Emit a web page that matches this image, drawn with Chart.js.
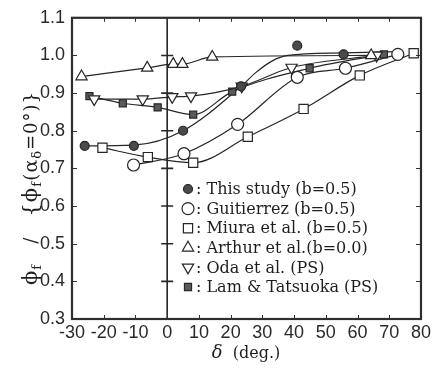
<!DOCTYPE html>
<html>
<head>
<meta charset="utf-8">
<script src="https://cdn.jsdelivr.net/npm/chart.js@4.4.1/dist/chart.umd.min.js"></script>
<style>
  html, body { margin: 0; padding: 0; background: #fff; }
  #wrap { width: 434px; height: 368px; }
</style>
</head>
<body>
<div id="wrap"><canvas id="chart" width="434" height="368"></canvas></div>
<script>
// axis ticks
const xTicks = [-30, -20, -10, 0, 10, 20, 30, 40, 50, 60, 70, 80];
const yTicks = [0.3, 0.4, 0.5, 0.6, 0.7, 0.8, 0.9, 1.0, 1.1];

// measured friction angle ratios vs. delta
const thisStudyX = [-26, -10.5, 5, 23.3, 41, 55.6];
const thisStudyY = [0.760, 0.760, 0.800, 0.918, 1.026, 1.003];
// smoothed trend drawn for this study
const thisFitX = [-27, -10.5, 5, 23.3, 28, 33, 38, 55, 72];
const thisFitY = [0.760, 0.762, 0.800, 0.918, 0.955, 0.985, 1.000, 1.007, 1.010];

const guitierrezX = [-10.6, 5.3, 22.2, 41, 56.2, 72.7];
const guitierrezY = [0.709, 0.739, 0.817, 0.942, 0.966, 1.003];

const miuraX = [-20.4, -6.1, 8.2, 25.4, 43, 60.7, 77.7];
const miuraY = [0.755, 0.730, 0.715, 0.784, 0.858, 0.947, 1.006];

const arthurX = [-27, -6.3, 1.9, 4.8, 14.2, 64.3];
const arthurY = [0.944, 0.967, 0.977, 0.977, 0.996, 1.000];

const odaX = [-23, -7.7, 1.6, 7.5, 23.5, 39.2, 66];
const odaY = [0.884, 0.884, 0.890, 0.892, 0.918, 0.968, 1.000];

const lamX = [-24.5, -14, -3, 8.2, 20.5, 44.9, 68.3];
const lamY = [0.892, 0.873, 0.862, 0.843, 0.904, 0.966, 1.003];

const legendLabels = [
  ": This study (b=0.5)",
  ": Guitierrez (b=0.5)",
  ": Miura et al. (b=0.5)",
  ": Arthur et al.(b=0.0)",
  ": Oda et al. (PS)",
  ": Lam & Tatsuoka (PS)"
];

const INK = "#262626";

function pts(xs, ys) {
  return xs.map((x, i) => ({ x: x, y: ys[i] }));
}

function series(label, xs, ys, style, showLine) {
  return {
    label: label,
    data: pts(xs, ys),
    showLine: showLine,
    borderColor: INK,
    borderWidth: 1.2,
    cubicInterpolationMode: "monotone",
    pointStyle: style.pointStyle,
    pointRadius: style.radius,
    pointRotation: style.rotation || 0,
    pointBackgroundColor: style.fill,
    pointBorderColor: INK,
    pointBorderWidth: 1.2
  };
}

const markerStyles = [
  { pointStyle: "circle", radius: 4.5, fill: "#4a4a4a" },
  { pointStyle: "circle", radius: 6, fill: "#fff" },
  { pointStyle: "rect", radius: 6.5, fill: "#fff" },
  { pointStyle: "triangle", radius: 6.5, fill: "#fff" },
  { pointStyle: "triangle", radius: 6.5, rotation: 180, fill: "#fff" },
  { pointStyle: "rect", radius: 5, fill: "#5a5a5a" }
];

const datasets = [
  series("This study", thisStudyX, thisStudyY, markerStyles[0], false),
  series("Guitierrez", guitierrezX, guitierrezY, markerStyles[1], true),
  series("Miura", miuraX, miuraY, markerStyles[2], true),
  series("Arthur", arthurX, arthurY, markerStyles[3], true),
  series("Oda", odaX, odaY, markerStyles[4], true),
  series("Lam", lamX, lamY, markerStyles[5], true),
  {
    label: "This study fit",
    data: pts(thisFitX, thisFitY),
    showLine: true,
    borderColor: INK,
    borderWidth: 1.2,
    cubicInterpolationMode: "monotone",
    pointRadius: 0
  }
];

const tickFont = { family: '"Liberation Sans Narrow", "Liberation Sans", sans-serif', size: 18 };
const serif = '"DejaVu Serif", "Liberation Serif", serif';

// frame, inner ticks, zero line, legend and axis titles
const decor = {
  id: "decor",
  beforeDatasetsDraw(chart) {
    const { ctx, chartArea: a, scales } = chart;
    const x0 = scales.x.getPixelForValue(0);
    ctx.save();
    ctx.strokeStyle = INK;
    ctx.lineWidth = 1.6;
    ctx.beginPath();
    ctx.moveTo(x0, a.top);
    ctx.lineTo(x0, a.bottom);
    yTicks.slice(1, -1).forEach(v => {
      const y = scales.y.getPixelForValue(v);
      ctx.moveTo(x0 - 6, y);
      ctx.lineTo(x0 + 6, y);
    });
    ctx.stroke();
    ctx.restore();
  },
  afterDraw(chart) {
    const { ctx, chartArea: a, scales } = chart;
    ctx.save();
    ctx.strokeStyle = "#333";
    ctx.lineWidth = 1;
    ctx.beginPath();
    yTicks.slice(1, -1).forEach(v => {
      const y = Math.round(scales.y.getPixelForValue(v)) + 0.5;
      ctx.moveTo(a.left, y); ctx.lineTo(a.left + 5, y);
      ctx.moveTo(a.right, y); ctx.lineTo(a.right - 5, y);
    });
    xTicks.slice(1, -1).forEach(v => {
      const x = Math.round(scales.x.getPixelForValue(v)) + 0.5;
      ctx.moveTo(x, a.top); ctx.lineTo(x, a.top + 4);
      ctx.moveTo(x, a.bottom); ctx.lineTo(x, a.bottom - 4);
    });
    ctx.stroke();

    ctx.lineWidth = 2.2;
    ctx.strokeStyle = "#2e2e2e";
    ctx.strokeRect(a.left, a.top, a.right - a.left, a.bottom - a.top);

    // legend
    ctx.font = "16px " + serif;
    ctx.textBaseline = "middle";
    ctx.textAlign = "left";
    legendLabels.forEach((text, i) => {
      const y = 189 + i * 19.6;
      const st = markerStyles[i];
      ctx.fillStyle = st.fill;
      ctx.strokeStyle = INK;
      ctx.lineWidth = 1.2;
      Chart.helpers.drawPoint(ctx, {
        pointStyle: st.pointStyle,
        radius: st.radius,
        rotation: st.rotation || 0,
        borderWidth: 1.2
      }, 188, y);
      ctx.fillStyle = "#1e1e1e";
      ctx.fillText(text, 196, y + 1);
    });

    // x title
    ctx.textBaseline = "alphabetic";
    ctx.font = "italic 18px " + serif;
    const dW = ctx.measureText("δ").width;
    ctx.font = "16px " + serif;
    const rest = "  (deg.)";
    const rW = ctx.measureText(rest).width;
    let sx = 246 - (dW + rW) / 2;
    ctx.fillStyle = "#1e1e1e";
    ctx.font = "italic 18px " + serif;
    ctx.fillText("δ", sx, 358);
    ctx.font = "16px " + serif;
    ctx.fillText(rest, sx + dW, 358);

    // y title, rotated, with subscripts
    const parts = [
      { t: "ϕ", s: 21, dy: 0 },
      { t: "f", s: 13, dy: 4 },
      { t: "   /   ", s: 18, dy: 0 },
      { t: "{ϕ", s: 21, dy: 0 },
      { t: "f", s: 13, dy: 4 },
      { t: "(α", s: 19, dy: 0 },
      { t: "δ", s: 13, dy: 4 },
      { t: "=0°)}", s: 18, dy: 0 }
    ];
    ctx.letterSpacing = "1px";
    let total = 0;
    parts.forEach(p => {
      ctx.font = p.s + "px " + serif;
      p.w = ctx.measureText(p.t).width;
      total += p.w;
    });
    ctx.translate(30, 188);
    ctx.rotate(-Math.PI / 2);
    let px = -total / 2;
    parts.forEach(p => {
      ctx.font = p.s + "px " + serif;
      ctx.fillText(p.t, px, 7 + p.dy);
      px += p.w;
    });
    ctx.restore();
  }
};

new Chart(document.getElementById("chart"), {
  type: "scatter",
  data: { datasets: datasets },
  options: {
    responsive: false,
    animation: false,
    layout: { padding: { top: 11, right: 10, left: 0, bottom: 0 } },
    plugins: { legend: { display: false }, tooltip: { enabled: false } },
    scales: {
      x: {
        type: "linear",
        min: -30,
        max: 80,
        grid: { display: false, drawTicks: false },
        border: { display: false },
        afterBuildTicks: s => { s.ticks = xTicks.map(v => ({ value: v })); },
        afterFit: s => { s.height = 49; },
        ticks: {
          font: tickFont,
          color: "#2a2a2a",
          padding: 3,
          maxRotation: 0,
          autoSkip: false,
          callback: v => String(v)
        }
      },
      y: {
        type: "linear",
        min: 0.3,
        max: 1.1,
        grid: { display: false, drawTicks: false },
        border: { display: false },
        afterBuildTicks: s => { s.ticks = yTicks.map(v => ({ value: v })); },
        afterFit: s => { s.width = 72; },
        ticks: {
          font: tickFont,
          color: "#2a2a2a",
          padding: 7,
          callback: v => v.toFixed(1)
        }
      }
    }
  },
  plugins: [decor]
});
</script>
</body>
</html>
